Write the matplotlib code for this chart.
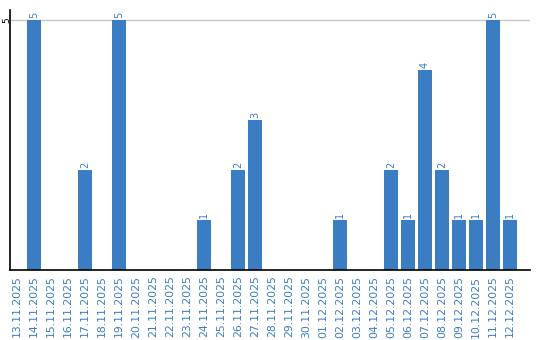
import numpy as np
import matplotlib.pyplot as plt

dates = ["13.11.2025", "14.11.2025", "15.11.2025", "16.11.2025", "17.11.2025",
         "18.11.2025", "19.11.2025", "20.11.2025", "21.11.2025", "22.11.2025",
         "23.11.2025", "24.11.2025", "25.11.2025", "26.11.2025", "27.11.2025",
         "28.11.2025", "29.11.2025", "30.11.2025", "01.12.2025", "02.12.2025",
         "03.12.2025", "04.12.2025", "05.12.2025", "06.12.2025", "07.12.2025",
         "08.12.2025", "09.12.2025", "10.12.2025", "11.12.2025", "12.12.2025"]
counts = [0, 5, 0, 0, 2, 0, 5, 0, 0, 0,
          0, 1, 0, 2, 3, 0, 0, 0, 0, 1,
          0, 0, 2, 1, 4, 2, 1, 1, 5, 1]

blue = '#3b7dc3'

fig = plt.figure(figsize=(5.4, 3.4), dpi=100)
ax = fig.add_axes([10/540, 1 - 270/340, 520/540, 260/340])

x = np.arange(len(dates))
ax.bar(x, counts, width=0.82, color=blue, zorder=2)
for xi, v in zip(x, counts):
    if v > 0:
        ax.text(xi, v + 0.04, str(v), rotation=90, ha='center', va='bottom',
                color=blue, fontsize=7)

ax.set_xlim(-0.41, 30.18)
ax.set_ylim(0, 5.2)
ax.axhline(5, color='#c8c8c8', lw=1, zorder=1)

ax.set_xticks(x)
ax.set_xticklabels(dates, rotation=90, color=blue, fontsize=7.8)
ax.tick_params(axis='x', length=0, pad=4)
ax.set_yticks([5])
ax.set_yticklabels(['5'], rotation=90, va='center', ha='center', fontsize=6.5)
ax.tick_params(axis='y', length=0, pad=2.5)

for s in ['top', 'right']:
    ax.spines[s].set_visible(False)
ax.spines['left'].set_linewidth(1.2)
ax.spines['bottom'].set_linewidth(1.2)

fig.savefig('out.png', dpi=100)
